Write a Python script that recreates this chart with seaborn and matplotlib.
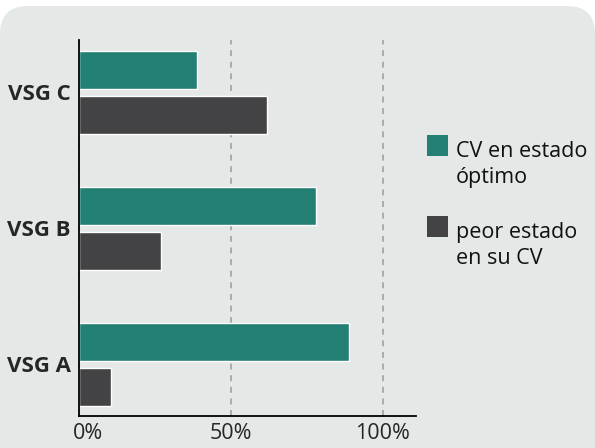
import pandas as pd
import matplotlib.pyplot as plt
import seaborn as sns
from matplotlib.patches import FancyBboxPatch, Rectangle
from matplotlib.transforms import IdentityTransform, ScaledTranslation

# --- data ---
grupos = ["VSG C", "VSG B", "VSG A"]
estados = ["CV en estado\nóptimo", "peor estado\nen su CV"]
optimo = [39, 78, 89]
peor = [62, 27, 10.5]
xticks = [0, 50, 100]
xtick_labels = ["0%", "50%", "100%"]

colores = ["#238074", "#434244"]
fondo = "#e4e8e6"

df = pd.DataFrame({
    "grupo": grupos * 2,
    "estado": [estados[0]] * 3 + [estados[1]] * 3,
    "pct": optimo + peor,
})

sns.set_style("white")
plt.rcParams["font.family"] = ["Open Sans", "DejaVu Sans"]

W, H = 595, 448
fig = plt.figure(figsize=(W / 100, H / 100), dpi=100)
fig.patch.set_facecolor("white")

# rounded grey panel behind everything
panel = FancyBboxPatch((0, -60), W, H - 6 + 60,
                       boxstyle="round,pad=0,rounding_size=28",
                       transform=IdentityTransform(), facecolor=fondo,
                       edgecolor="none", zorder=-10)
fig.patches.append(panel)

ax = fig.add_axes([79 / W, 1 - 416 / H, (416 - 79) / W, (416 - 40) / H])
ax.set_facecolor("none")

sns.barplot(data=df, y="grupo", x="pct", hue="estado", order=grupos,
            hue_order=estados, palette=colores, orient="h",
            width=0.66, gap=0.16, saturation=1, legend=False, ax=ax)

ax.set_xlim(0, 111)
ax.set_ylim(2.379, -0.386)
ax.set_xticks(xticks)
ax.set_xticklabels(xtick_labels, fontsize=15.5)
ax.set_xlabel("")
ax.set_ylabel("")
for lab in ax.get_yticklabels():
    lab.set_fontweight("bold")
    lab.set_fontsize(16)
ax.tick_params(axis="both", length=0)
ax.tick_params(axis="x", pad=5)
ax.tick_params(axis="y", pad=6)

# "0%" sits a little right of its tick
lab0 = ax.get_xticklabels()[0]
lab0.set_transform(lab0.get_transform() + ScaledTranslation(9 / 100, 0, fig.dpi_scale_trans))

ax.set_axisbelow(True)
ax.xaxis.grid(True, color="#9a9a9a", linewidth=1.1, linestyle=(0, (3.9, 3.7)))
ax.yaxis.grid(False)

for s in ["top", "right"]:
    ax.spines[s].set_visible(False)
for s in ["left", "bottom"]:
    ax.spines[s].set_color("black")
    ax.spines[s].set_linewidth(1.3)

# legend, square aligned with first text line
leyenda_top = [135, 216]
for est, col, top in zip(estados, colores, leyenda_top):
    fig.patches.append(Rectangle((427 / W, 1 - (top + 21) / H), 21 / W, 21 / H,
                                 transform=fig.transFigure, facecolor=col,
                                 edgecolor="none"))
    fig.text(456 / W, 1 - (top + 20 + 28) / H, est, fontsize=15.5, va="baseline",
             ha="left", linespacing=1.3, color="#111111")

fig.savefig("out.png", dpi=100)
